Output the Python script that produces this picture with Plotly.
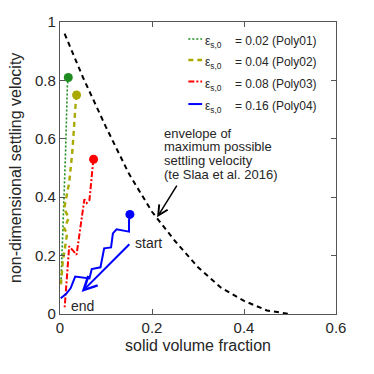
import plotly.graph_objects as go

# ---- data ----
env_x = [0.01, 0.05, 0.10, 0.15, 0.20, 0.25, 0.30, 0.35, 0.40, 0.45, 0.50]
env_y = [0.96, 0.81, 0.64, 0.48, 0.35, 0.25, 0.16, 0.09, 0.045, 0.012, 0.0]

poly01_x = [0.018, 0.016, 0.012, 0.009, 0.006, 0.004, 0.002]
poly01_y = [0.81, 0.78, 0.55, 0.41, 0.29, 0.20, 0.10]

poly02_x = [0.036, 0.034, 0.027, 0.020, 0.009, 0.019, 0.009, 0.016, 0.006, 0.002]
poly02_y = [0.75, 0.72, 0.56, 0.45, 0.36, 0.33, 0.29, 0.28, 0.18, 0.10]

poly03_x = [0.073, 0.072, 0.064, 0.058, 0.053, 0.043, 0.036, 0.020, 0.014, 0.010]
poly03_y = [0.53, 0.52, 0.39, 0.38, 0.393, 0.29, 0.203, 0.232, 0.10, 0.02]

poly04_x = [0.152, 0.150, 0.150, 0.123, 0.115, 0.111, 0.096, 0.088, 0.069, 0.064,
            0.033, 0.023, 0.013, 0.0015]
poly04_y = [0.341, 0.32, 0.282, 0.290, 0.276, 0.228, 0.225, 0.160, 0.154, 0.122,
            0.128, 0.088, 0.068, 0.054]

labels = ["0.02 (Poly01)", "0.04 (Poly02)", "0.08 (Poly03)", "0.16 (Poly04)"]
x_ticks = [0, 0.2, 0.4, 0.6]
x_ticktext = ["0", "0.2", "0.4", "0.6"]
y_ticks = [0, 0.2, 0.4, 0.6, 0.8, 1]
y_ticktext = ["0", "0.2", "0.4", "0.6", "0.8", "1"]

# ---- styles ----
series = [
    (poly01_x, poly01_y, "#1e8c1e", "2px,2px", 1.6),
    (poly02_x, poly02_y, "#a9a900", "5px,4px", 2.4),
    (poly03_x, poly03_y, "#ff0000", "6px,2px,2px,2px", 2),
    (poly04_x, poly04_y, "#0000ff", "solid", 2),
]
FONT = "Liberation Sans, Arial, sans-serif"
TXT = "#262626"

fig = go.Figure()

fig.add_trace(go.Scatter(x=env_x, y=env_y, mode="lines",
                         line=dict(color="black", width=2, dash="5px,4px"),
                         showlegend=False, hoverinfo="skip"))

for xs, ys, col, dash, w in series:
    fig.add_trace(go.Scatter(x=xs, y=ys, mode="lines",
                             line=dict(color=col, width=w, dash=dash),
                             showlegend=False))
    fig.add_trace(go.Scatter(x=xs[:1], y=ys[:1], mode="markers",
                             marker=dict(color=col, size=9),
                             showlegend=False))

# legend drawn by hand (short line samples + subscripted text)
leg_rows = [0.942, 0.870, 0.796, 0.719]
for (xs, ys, col, dash, w), lab, ry in zip(series, labels, leg_rows):
    fig.add_shape(type="line", x0=0.279, x1=0.309, y0=ry, y1=ry,
                  line=dict(color=col, width=w, dash=dash))
    fig.add_annotation(x=0.311, y=ry, xanchor="left", yanchor="middle",
                       text="ε<sub>s,0</sub>&nbsp;&nbsp;&nbsp; = " + lab, showarrow=False,
                       font=dict(size=12, color=TXT), yshift=-3)

env_lines = ["envelope of", "maximum possible", "settling velocity", "(te Slaa et al. 2016)"]
for i, t in enumerate(env_lines):
    fig.add_annotation(x=0.221, y=(314 - 133 - 13.7 * i) / 292, xanchor="left",
                       yanchor="middle", text=t, showarrow=False,
                       font=dict(size=13, color=TXT))

# arrows
fig.add_annotation(x=0.211, y=0.331, ax=0.256, ay=0.445, axref="x", ayref="y",
                   text="", showarrow=True, arrowhead=5, arrowsize=1.3,
                   arrowwidth=1.5, arrowcolor="black")
fig.add_annotation(x=0.047, y=0.075, ax=0.154, ay=0.244, axref="x", ayref="y",
                   text="", showarrow=True, arrowhead=5, arrowsize=1.3,
                   arrowwidth=2, arrowcolor="#0000ff")
fig.add_annotation(x=0.159, y=0.243, xanchor="left", yanchor="middle", text="start",
                   showarrow=False, font=dict(size=14, color=TXT))
fig.add_annotation(x=0.02, y=0.026, xanchor="left", yanchor="middle", text="end",
                   showarrow=False, font=dict(size=14, color=TXT))

# y-axis title placed by hand so it sits close to the page edge
fig.add_annotation(xref="paper", yref="paper", x=-0.163, y=0.5, textangle=-90,
                   text="non-dimensional settling velocity", showarrow=False,
                   xanchor="center", yanchor="middle", font=dict(size=16, color=TXT))

axis_common = dict(showline=True, linecolor="#555555", linewidth=1.3, mirror="ticks",
                   ticks="inside", ticklen=5, tickcolor="#555555", tickwidth=1.3,
                   showgrid=False, zeroline=False, automargin=False,
                   tickfont=dict(size=15, color=TXT), title_font=dict(size=16, color=TXT))

fig.update_xaxes(range=[0, 0.6], tickvals=x_ticks, ticktext=x_ticktext,
                 title_text="solid volume fraction", title_standoff=4, **axis_common)
fig.update_yaxes(range=[0, 1], tickvals=y_ticks, ticktext=y_ticktext, **axis_common)

# page body adds an 8px margin, so the figure is a bit smaller and shifted
fig.update_layout(width=366, height=366, plot_bgcolor="white", paper_bgcolor="white",
                  font=dict(family=FONT, color=TXT),
                  margin=dict(l=52, r=38, t=14, b=60), showlegend=False)

fig.write_html("out.html")
